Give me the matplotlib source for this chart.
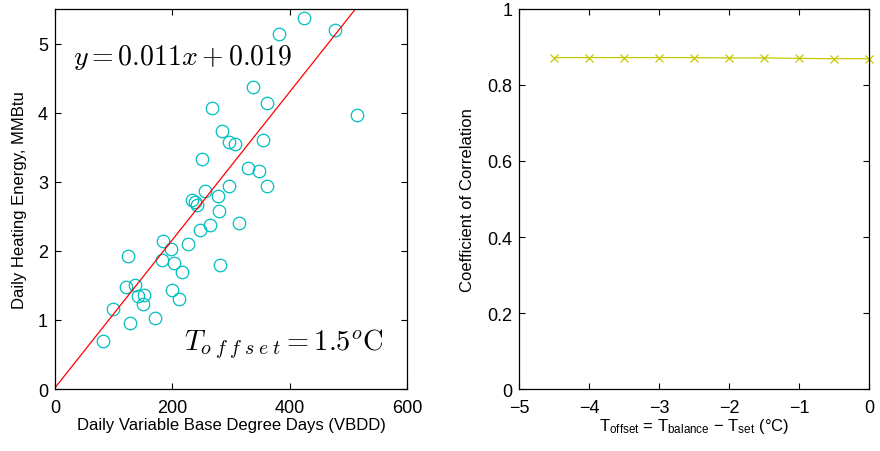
import matplotlib
matplotlib.use("Agg")
import matplotlib.pyplot as plt

plt.rcParams["font.family"] = ["Liberation Sans", "DejaVu Sans"]
plt.rcParams["mathtext.fontset"] = "custom"
plt.rcParams["mathtext.rm"] = "Liberation Sans"
plt.rcParams["mathtext.it"] = "Liberation Sans:italic"

# daily VBDD vs heating energy (MMBtu)
vbdd = [82, 99, 121, 125, 128, 136, 141, 151, 150, 171,
        184, 183, 197, 199, 203, 211, 217, 227, 234, 239,
        242, 247, 250, 256, 265, 268, 277, 279, 281, 284,
        296, 297, 306, 314, 329, 338, 348, 354, 362, 362,
        381, 424, 478, 515]
energy = [0.70, 1.16, 1.47, 1.93, 0.96, 1.50, 1.34, 1.36, 1.23, 1.03,
          2.14, 1.87, 2.03, 1.43, 1.83, 1.30, 1.70, 2.10, 2.73, 2.71,
          2.67, 2.30, 3.33, 2.87, 2.37, 4.07, 2.80, 2.57, 1.80, 3.74,
          2.94, 3.58, 3.54, 2.40, 3.20, 4.37, 3.16, 3.61, 4.14, 2.94,
          5.14, 5.37, 5.20, 3.97]

fit_slope = 0.0107
fit_intercept = 0.019
fit_x = [0, 600]

# correlation vs offset temperature
t_offset = [-4.5, -4.0, -3.5, -3.0, -2.5, -2.0, -1.5, -1.0, -0.5, 0.0]
corr = [0.872, 0.872, 0.872, 0.872, 0.872, 0.871, 0.871, 0.870, 0.869, 0.869]

fig = plt.figure(figsize=(8.8, 4.52), dpi=100)

ax1 = fig.add_axes([0.0625, 0.137, 0.4, 0.841])
ax1.plot(vbdd, energy, "o", mfc="none", mec=(0, 0.75, 0.75), ms=9, mew=0.9)
ax1.plot(fit_x, [fit_slope * x + fit_intercept for x in fit_x], color="red", lw=0.9)
ax1.set_xlim(0, 600)
ax1.set_ylim(0, 5.5)
ax1.set_xticks([0, 200, 400, 600])
ax1.set_yticks([0, 1, 2, 3, 4, 5])
ax1.set_xlabel("Daily Variable Base Degree Days (VBDD)", fontsize=12, labelpad=1)
ax1.set_ylabel("Daily Heating Energy, MMBtu", fontsize=12, labelpad=8)
ax1.text(0.05, 0.875, r"$y = 0.011x + 0.019$", transform=ax1.transAxes,
         fontsize=20, math_fontfamily="cm", va="center")
ax1.text(0.935, 0.12, r"$T_{o\;f\;f\;s\;e\;t} = 1.5^{o}\mathrm{C}$", transform=ax1.transAxes,
         fontsize=20.5, math_fontfamily="cm", ha="right", va="center")

ax2 = fig.add_axes([0.590, 0.137, 0.398, 0.841])
ax2.plot(t_offset, corr, "x-", color=(0.78, 0.78, 0), ms=6, mew=0.9, lw=0.9, clip_on=False)
ax2.set_xlim(-5, 0)
ax2.set_ylim(0, 1)
ax2.set_xticks([-5, -4, -3, -2, -1, 0])
ax2.set_xticklabels(["\u22125", "\u22124", "\u22123", "\u22122", "\u22121", "0"])
ax2.set_yticks([0, 0.2, 0.4, 0.6, 0.8, 1])
ax2.set_yticklabels(["0", "0.2", "0.4", "0.6", "0.8", "1"])
ax2.set_xlabel("T$_{\\mathrm{offset}}$ = T$_{\\mathrm{balance}}$ \u2212 T$_{\\mathrm{set}}$ (\u00b0C)",
               fontsize=12, math_fontfamily="custom", labelpad=0)
ax2.set_ylabel("Coefficient of Correlation", fontsize=12, labelpad=9)

for ax in (ax1, ax2):
    ax.tick_params(direction="in", top=True, right=True, labelsize=13, length=4)
    ax.tick_params(axis="x", pad=7)
    ax.tick_params(axis="y", pad=5)
    for s in ax.spines.values():
        s.set_linewidth(0.9)

fig.savefig("out.png", dpi=100)
